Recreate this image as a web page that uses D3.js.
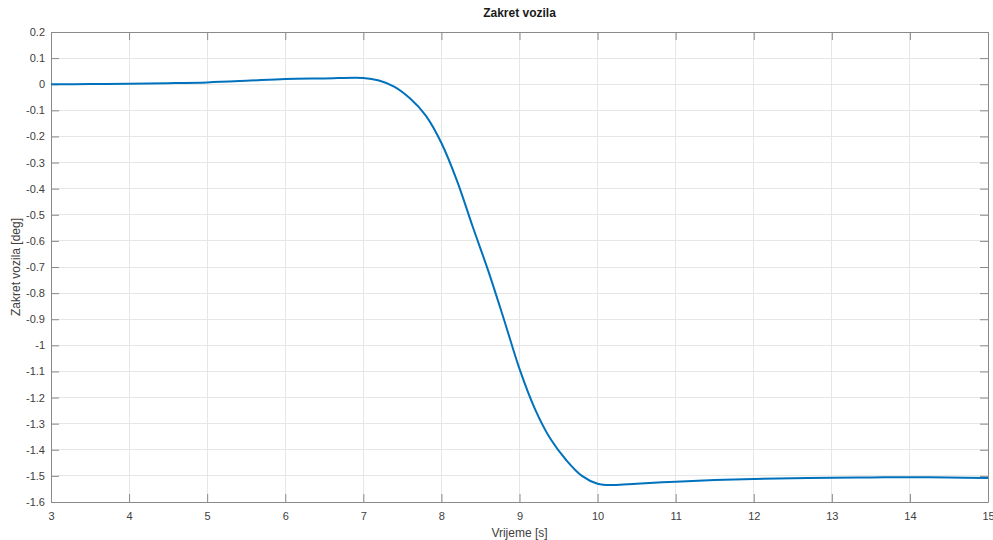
<!DOCTYPE html>
<html>
<head>
<meta charset="utf-8">
<script src="https://cdn.jsdelivr.net/npm/d3@7"></script>
<style>
  body { margin: 0; background: #fff; }
  text { font-family: "Liberation Sans", Arial, sans-serif; }
</style>
</head>
<body>
<div id="chart"></div>
<script>
// data
var time = [3, 3.5, 4, 4.5, 5, 5.5, 6, 6.5, 7, 7.2, 7.4, 7.6, 7.8, 8, 8.2, 8.4, 8.6, 8.8,
            9, 9.2, 9.4, 9.6, 9.8, 10, 10.2, 10.5, 11, 11.5, 12, 12.5, 13, 13.5, 14, 14.5, 15];
var angle = [0, 0.0005, 0.002, 0.004, 0.007, 0.013, 0.02, 0.022, 0.024, 0.014, -0.01, -0.055,
             -0.12, -0.225, -0.37, -0.545, -0.715, -0.9, -1.09, -1.245, -1.36, -1.44,
             -1.5, -1.53, -1.535, -1.53, -1.522, -1.516, -1.512, -1.509, -1.507, -1.506,
             -1.505, -1.506, -1.508];
var xTicks = d3.range(3, 16, 1);
var yTicks = d3.range(-16, 3, 1).map(function(d) { return d / 10; });

var W = 993, H = 540;
var margin = {top: 32, right: 5, bottom: 38, left: 51};
var width = W - margin.left - margin.right;
var height = H - margin.top - margin.bottom;

var svg = d3.select("#chart").append("svg")
    .attr("width", W)
    .attr("height", H);
var g = svg.append("g")
    .attr("transform", "translate(" + margin.left + "," + margin.top + ")");

var x = d3.scaleLinear().domain([3, 15]).range([0, width]);
var y = d3.scaleLinear().domain([-1.6, 0.2]).range([height, 0]);

var fmt = function(d) { return String(+d.toFixed(1)); };
var axisColor = "#8a8a8a";
var textColor = "#404040";

// grid
g.append("g").selectAll("line").data(xTicks).enter().append("line")
    .attr("x1", function(d) { return x(d); }).attr("x2", function(d) { return x(d); })
    .attr("y1", 0).attr("y2", height)
    .attr("stroke", "#e6e6e6").attr("stroke-width", 1).attr("shape-rendering", "crispEdges");
g.append("g").selectAll("line").data(yTicks).enter().append("line")
    .attr("y1", function(d) { return y(d); }).attr("y2", function(d) { return y(d); })
    .attr("x1", 0).attr("x2", width)
    .attr("stroke", "#e6e6e6").attr("stroke-width", 1).attr("shape-rendering", "crispEdges");

// axes, ticks pointing inward on all four sides
function styleAxis(sel) {
  sel.select(".domain").attr("stroke", axisColor);
  sel.selectAll(".tick line").attr("stroke", axisColor);
  sel.selectAll(".tick text").attr("fill", textColor)
     .style("font-size", "11px");
}
g.append("g")
    .attr("transform", "translate(0," + height + ")")
    .call(d3.axisBottom(x).tickValues(xTicks).tickSizeInner(-8).tickSizeOuter(0)
          .tickPadding(10).tickFormat(d3.format("d")))
    .call(styleAxis);
g.append("g")
    .call(d3.axisTop(x).tickValues(xTicks).tickSizeInner(-8).tickSizeOuter(0).tickFormat(""))
    .call(styleAxis);
g.append("g")
    .call(d3.axisLeft(y).tickValues(yTicks).tickSizeInner(-8).tickSizeOuter(0)
          .tickPadding(6).tickFormat(fmt))
    .call(styleAxis);
g.append("g")
    .attr("transform", "translate(" + width + ",0)")
    .call(d3.axisRight(y).tickValues(yTicks).tickSizeInner(-8).tickSizeOuter(0).tickFormat(""))
    .call(styleAxis);

// line
var pts = time.map(function(t, i) { return [t, angle[i]]; });
g.append("path")
    .datum(pts)
    .attr("fill", "none")
    .attr("stroke", "#0072BD")
    .attr("stroke-width", 2)
    .attr("d", d3.line()
        .x(function(d) { return x(d[0]); })
        .y(function(d) { return y(d[1]); })
        .curve(d3.curveCatmullRom.alpha(0.5)));

// title and labels
svg.append("text")
    .attr("x", margin.left + width / 2).attr("y", 17)
    .attr("text-anchor", "middle")
    .style("font-size", "12px").style("font-weight", "bold")
    .attr("fill", "#1a1a1a")
    .text("Zakret vozila");
svg.append("text")
    .attr("x", margin.left + width / 2).attr("y", 537)
    .attr("text-anchor", "middle")
    .style("font-size", "12px")
    .attr("fill", textColor)
    .text("Vrijeme [s]");
svg.append("text")
    .attr("transform", "translate(20," + (margin.top + height / 2) + ") rotate(-90)")
    .attr("text-anchor", "middle")
    .style("font-size", "12px")
    .attr("fill", textColor)
    .text("Zakret vozila [deg]");
</script>
</body>
</html>
